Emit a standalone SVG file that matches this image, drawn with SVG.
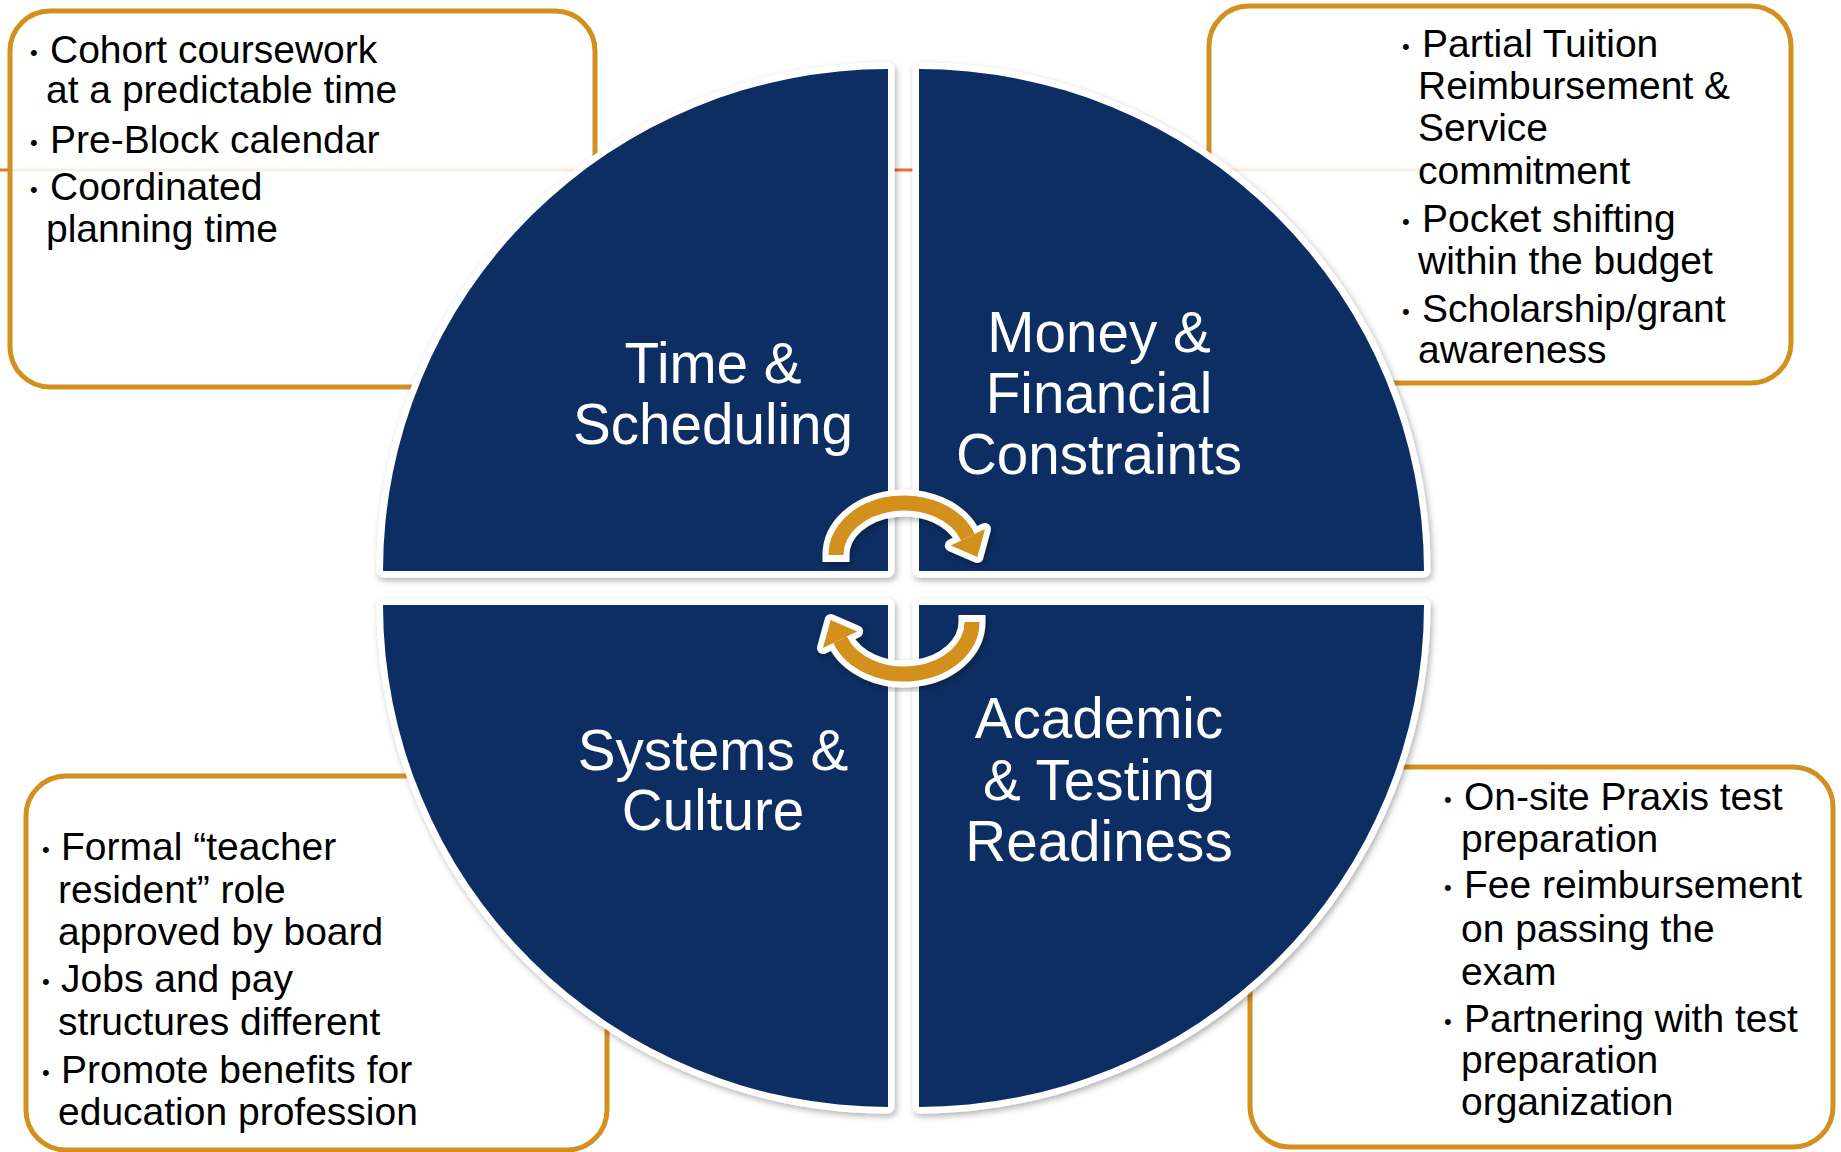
<svg xmlns="http://www.w3.org/2000/svg" width="1841" height="1152" viewBox="0 0 1841 1152">
<defs>
<style>
.box{fill:#ffffff;fill-opacity:0.87;stroke:#D4901E;stroke-width:5}
.q{fill:#0D2E63;stroke:#ffffff;stroke-width:13;stroke-linejoin:round;paint-order:stroke}
.ql{font-family:"Liberation Sans",Arial,sans-serif;font-size:56.6px;fill:#ffffff;text-anchor:middle}
.t{font-family:"Liberation Sans",Arial,sans-serif;font-size:39px;fill:#000000}
.b{font-family:"Liberation Sans",Arial,sans-serif;font-size:22px;fill:#000000}
.aw{fill:none;stroke:#ffffff;stroke-width:27}
.ag{fill:none;stroke:#D4901E;stroke-width:15}
.hw{fill:#ffffff;stroke:#ffffff;stroke-width:12;stroke-linejoin:round}
.hg{fill:#D4901E}
</style>
<filter id="sh" x="-10%" y="-10%" width="120%" height="120%">
<feDropShadow dx="2" dy="3" stdDeviation="3" flood-color="#000000" flood-opacity="0.3"/>
</filter>
<g id="arrowShape">
<path class="aw" d="M 836 562 L 836 555 A 68 52 0 0 1 967.9 537.2"/>
<polygon class="hw" points="985,529 950.8,545.4 977.4,557"/>
<path class="ag" d="M 836 555 A 68 52 0 0 1 967.9 537.2"/>
<polygon class="hg" points="985,529 950.8,545.4 977.4,557"/>
</g>
</defs>
<rect width="1841" height="1152" fill="#ffffff"/>
<line x1="0" y1="170" x2="1425" y2="170" stroke="#E8732C" stroke-width="3"/>

<g id="box-time">
<rect class="box" x="10" y="11" width="585" height="376" rx="40"/>
<text class="b" x="30" y="60">•</text>
<text class="t" x="50" y="63">Cohort coursework</text>
<text class="t" x="46" y="103">at a predictable time</text>
<text class="b" x="30" y="150">•</text>
<text class="t" x="50" y="153">Pre-Block calendar</text>
<text class="b" x="30" y="197">•</text>
<text class="t" x="50" y="200">Coordinated</text>
<text class="t" x="46" y="242">planning time</text>
</g>

<g id="box-money">
<rect class="box" x="1209" y="6" width="582" height="377" rx="40"/>
<text class="b" x="1402" y="54">•</text>
<text class="t" x="1422" y="57">Partial Tuition</text>
<text class="t" x="1418" y="99">Reimbursement &amp;</text>
<text class="t" x="1418" y="141">Service</text>
<text class="t" x="1418" y="184">commitment</text>
<text class="b" x="1402" y="229">•</text>
<text class="t" x="1422" y="232">Pocket shifting</text>
<text class="t" x="1418" y="274">within the budget</text>
<text class="b" x="1402" y="319">•</text>
<text class="t" x="1422" y="322">Scholarship/grant</text>
<text class="t" x="1418" y="363">awareness</text>
</g>

<g id="box-systems">
<rect class="box" x="26" y="776" width="581" height="374" rx="40"/>
<text class="b" x="42" y="857">•</text>
<text class="t" x="61" y="860">Formal “teacher</text>
<text class="t" x="58" y="903">resident” role</text>
<text class="t" x="58" y="945">approved by board</text>
<text class="b" x="42" y="989">•</text>
<text class="t" x="61" y="992">Jobs and pay</text>
<text class="t" x="58" y="1035">structures different</text>
<text class="b" x="42" y="1080">•</text>
<text class="t" x="61" y="1083">Promote benefits for</text>
<text class="t" x="58" y="1125">education profession</text>
</g>

<g id="box-academic">
<rect class="box" x="1250" y="767" width="583" height="380" rx="40"/>
<text class="b" x="1444" y="807">•</text>
<text class="t" x="1464" y="810">On-site Praxis test</text>
<text class="t" x="1461" y="852">preparation</text>
<text class="b" x="1444" y="895">•</text>
<text class="t" x="1464" y="898">Fee reimbursement</text>
<text class="t" x="1461" y="942">on passing the</text>
<text class="t" x="1461" y="985">exam</text>
<text class="b" x="1444" y="1029">•</text>
<text class="t" x="1464" y="1032">Partnering with test</text>
<text class="t" x="1461" y="1073">preparation</text>
<text class="t" x="1461" y="1115">organization</text>
</g>

<g id="q-time" filter="url(#sh)">
<path class="q" d="M 888 571 H 383 A 505 502 0 0 1 888 69 Z"/>
<text class="ql" x="713" y="383">Time &amp;</text>
<text class="ql" x="713" y="444">Scheduling</text>
</g>
<g id="q-money" filter="url(#sh)">
<path class="q" d="M 919 571 V 69 A 505 502 0 0 1 1424 571 Z"/>
<text class="ql" x="1099" y="352">Money &amp;</text>
<text class="ql" x="1099" y="413">Financial</text>
<text class="ql" x="1099" y="474">Constraints</text>
</g>
<g id="q-systems" filter="url(#sh)">
<path class="q" d="M 888 605 V 1107 A 505 502 0 0 1 383 605 Z"/>
<text class="ql" x="713" y="770">Systems &amp;</text>
<text class="ql" x="713" y="830">Culture</text>
</g>
<g id="q-academic" filter="url(#sh)">
<path class="q" d="M 919 605 H 1424 A 505 502 0 0 1 919 1107 Z"/>
<text class="ql" x="1099" y="738">Academic</text>
<text class="ql" x="1099" y="800">&amp; Testing</text>
<text class="ql" x="1099" y="861">Readiness</text>
</g>

<g id="connectors" filter="url(#sh)">
<use href="#arrowShape"/>
<use href="#arrowShape" transform="rotate(180 904 588.5)"/>
</g>
</svg>
